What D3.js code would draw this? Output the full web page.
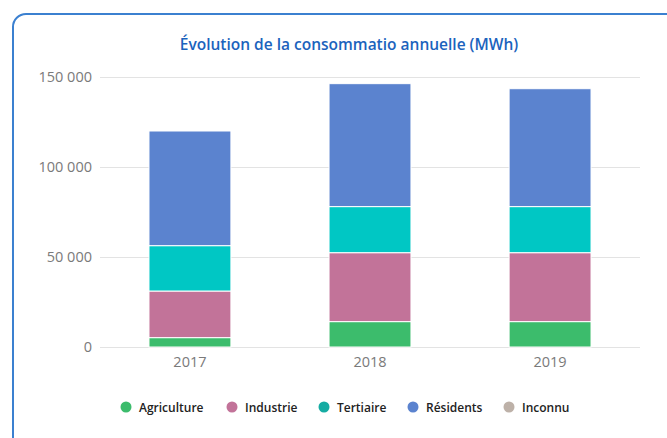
<!DOCTYPE html>
<html>
<head>
<meta charset="utf-8">
<script src="https://cdn.jsdelivr.net/npm/d3@7"></script>
<style>
  body { margin: 0; background: #fff; }
  svg { display: block; }
</style>
</head>
<body>
<svg id="chart" width="667" height="438"></svg>
<script>
var years = ["2017", "2018", "2019"];
var series = ["Agriculture", "Industrie", "Tertiaire", "Résidents", "Inconnu"];
var agriculture = [5200, 14100, 14100];
var industrie = [25900, 38300, 38300];
var tertiaire = [25200, 25600, 25600];
var residents = [63700, 68300, 65500];
var inconnu = [0, 0, 0];
var yTicks = [0, 50000, 100000, 150000];

var barColors = ["#3cbc6c", "#c27399", "#00c7c4", "#5b83cf", "#bdb1a8"];
var legendColors = ["#3cbc6c", "#c27399", "#15aca3", "#5b83cf", "#bdb1a8"];

var rows = years.map((y, i) => ({
    year: y,
    Agriculture: agriculture[i],
    Industrie: industrie[i],
    Tertiaire: tertiaire[i],
    "Résidents": residents[i],
    Inconnu: inconnu[i]
}));

var svg = d3.select("#chart");

// card
svg.append("rect")
    .attr("x", 13).attr("y", 14)
    .attr("width", 670).attr("height", 440)
    .attr("rx", 13)
    .attr("fill", "#fff")
    .attr("stroke", "#3b80d0")
    .attr("stroke-width", 2);

svg.append("text")
    .attr("x", 349).attr("y", 50)
    .attr("text-anchor", "middle")
    .attr("fill", "#1b63bd")
    .attr("font-family", "'Open Sans', sans-serif")
    .attr("font-weight", 600)
    .attr("font-size", 15.5)
    .text("Évolution de la consommatio annuelle (MWh)");

var x = d3.scaleBand().domain(years).range([100, 640]).paddingInner(0.545).paddingOuter(0.272);
var y = d3.scaleLinear().domain([0, 150000]).range([347, 77]);

var fmt = d => d3.format(",")(d).replace(/,/g, " ");

var yAxis = svg.append("g")
    .attr("transform", "translate(100,0)")
    .call(d3.axisLeft(y).tickValues(yTicks).tickSize(-540).tickFormat(fmt).tickPadding(8));
yAxis.select(".domain").remove();
yAxis.selectAll("line").attr("stroke", "#e3e3e3").attr("stroke-width", 1);
yAxis.selectAll("text")
    .attr("fill", "#7a7a7a")
    .attr("font-family", "'Open Sans', sans-serif")
    .attr("font-size", 14.5);

var xAxis = svg.append("g")
    .attr("transform", "translate(0,347)")
    .call(d3.axisBottom(x).tickSize(0).tickPadding(10));
xAxis.select(".domain").remove();
xAxis.selectAll("text")
    .attr("fill", "#7a7a7a")
    .attr("font-family", "'Open Sans', sans-serif")
    .attr("font-size", 14.5);

var stack = d3.stack().keys(series)(rows);

svg.append("g")
    .selectAll("g")
    .data(stack)
    .join("g")
    .attr("fill", (d, i) => barColors[i])
    .selectAll("rect")
    .data(d => d)
    .join("rect")
    .attr("x", d => x(d.data.year))
    .attr("y", d => y(d[1]))
    .attr("width", x.bandwidth())
    .attr("height", d => Math.max(0, y(d[0]) - y(d[1])))
    .attr("stroke", "#fff")
    .attr("stroke-width", d => (d[1] - d[0]) > 0 ? 1 : 0);

// legend
var legendX = [126, 232, 324, 413, 509];
var legend = svg.append("g")
    .selectAll("g")
    .data(series)
    .join("g")
    .attr("transform", (d, i) => `translate(${legendX[i]},407)`);

legend.append("circle")
    .attr("r", 5.5)
    .attr("fill", (d, i) => legendColors[i]);

legend.append("text")
    .attr("x", 13)
    .attr("y", 4.5)
    .attr("fill", "#222")
    .attr("font-family", "'Open Sans', sans-serif")
    .attr("font-weight", 600)
    .attr("font-size", 12)
    .text(d => d);
</script>
</body>
</html>
